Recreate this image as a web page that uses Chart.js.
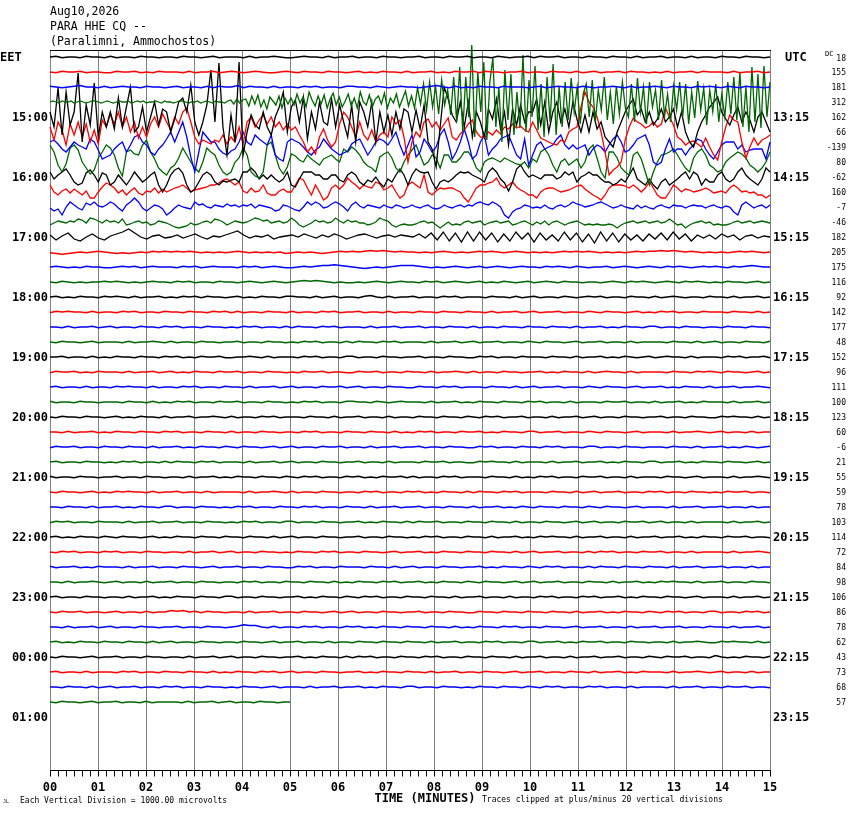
<!DOCTYPE html>
<html>
<head>
<meta charset="utf-8">
<title>PARA HHE CQ helicorder</title>
<script src="https://cdn.jsdelivr.net/npm/chart.js@4.4.0/dist/chart.umd.min.js"></script>
<style>
  html, body { margin: 0; padding: 0; background: #fff; }
</style>
</head>
<body>
<canvas id="heli" width="850" height="814"></canvas>
<script>
// header / labels
const stationLines = ['Aug10,2026', 'PARA HHE CQ --', '(Paralimni, Ammochostos)'];
const eetHours = ['EET', '15:00', '16:00', '17:00', '18:00', '19:00', '20:00', '21:00', '22:00', '23:00', '00:00', '01:00'];
const utcHours = ['UTC', '13:15', '14:15', '15:15', '16:15', '17:15', '18:15', '19:15', '20:15', '21:15', '22:15', '23:15'];
const minuteTicks = ['00', '01', '02', '03', '04', '05', '06', '07', '08', '09', '10', '11', '12', '13', '14', '15'];
const dcOffsets = [18, 155, 181, 312, 162, 66, -139, 80, -62, 160, -7, -46, 182, 205, 175, 116, 92, 142, 177, 48, 152, 96,
  111, 100, 123, 60, -6, 21, 55, 59, 78, 103, 114, 72, 84, 98, 106, 86, 78, 62, 43, 73, 68, 57];
const traceColors = ['#000000', '#ff0000', '#0000ff', '#006600'];
const rowCount = 44;
const lastRowMinutes = 5;   // last line stops at 5 minutes
const pxPerDivision = 15;   // readings below are in 1/15 of a vertical division

// loud rows (+ is up)
const trace03 = [
  0,1,0,-1,1,0,0,1,-1,0, 1,0,-1,0,1,1,0,-1,0,1, 0,-1,0,1,0,0,1,-1,0,1, 0,1,-1,0,0,1,0,-1,1,0,
  0,-1,0,1,1,0,-1,0,0,1, -1,0,1,0,-1,1,0,0,-1,1, 2,-2,3,-1,2,
  3,-4,6,-2,7,-5,2,-7,5,1,-3,6,-6,4,-2,
  4,-3,8,-1,5,-5,10,2,-4,6, -2,7,-6,3,9,-3,5,-5,1,8, -4,4,-6,10,0,-3,7,-5,3,6, -2,9,-6,4,-1,8,-5,3,11,-4, 6,-6,14,-2,18,
  -8,20,-5,15,-12,22,-3,12,-13,25,
  -20,35,-30,25,-15,57,-35,30,-10,40, -38,20,44,-25,15,-40,32,-18,28,-33, 10,-26,47,-30,22,-15,36,-28,18,-35, 25,-20,38,-33,15,-25,
  20,-18,24,-10,15,-22,8,18,-15,22, -20,12,-8,25,-18,10,-22,16,-12,20, -6,-15,18,
  -20,24,-10,15,-22,20,-5,12,-18,22, -14,8,-20,16,-8,20,-15,
  18,-22,10,-16,21,-8,14,-23,12,-10, 18,-20,8,-15,20,-12,
  25,-18,30,-25,15,-30,35,-20,28,-26, 36,-15,20
];
const trace04 = [
  5,-10,29,-18,25,-8,5,44,-25,12, -8,34,-20,5,-10,5,-12,19,-10,10, 30,-15,-10,10,-15,0,15,-8,8,5,
  -15,-2,15,19,5,32,-5,-18,-5,12, 47,-5,54,-10,-38,2,-25,55,-38,-15, 2,-8,-12,5,-10,-18,0,10,25,-15,
  10,17,-5,20,-22,5,-12,15,-5,-8, 18,-10,12,-5,-20,12,-25,15,5,-10, 15,-25,5,-15,2,-18,5,-12,8,5,
  -15,7,-12,12,-25,-32,-50,-10,30,18, 2,-5,15,-10,15,-20,5,-5,-20,8, -2,18,-12,5,-28,8,-8,12,-5,5,
  5,18,-8,15,-15,5,15,-5,8,-10, 15,-2,-15,2,-15,5,-12,-5,-20,-25, -30,-15,-5,5,12,18,2,8,-5,5,
  -8,-2,8,-5,0,8,-10,5,-15,-25, -30,-15,-5,2,10,15,20,5,-2,-8, 2,10,-5,5,-3,-15,0,5,-5,-15
];
const trace05 = [
  5,-8,10,2,-13,8,-3,10,-5,8, -10,2,-12,12,5,18,8,20,5,15, 0,10,-6,5,-5,8,15,5,18,10,
  2,15,8,20,24,10,-5,-12,-8,-10, -12,-8,-10,-3,-12,-5,-10,5,-12,10, 15,5,12,17,8,15,5,10,2,8,
  2,5,-3,-10,-20,-15,-22,-5,3,-8, -15,-10,8,20,15,5,-5,10,-3,-8, 2,-10,-3,0,-5,15,8,12,-5,-30,
  -10,0,-5,10,13,5,10,2,8,14, -5,-8,-2,2,8,12,0,-5,-6,0, -3,2,-2,5,3,8,4,6,2,0,
  10,2,-6,-8,-10,-12,-13,-8,-10,0, 3,5,25,40,30,25,15,0,-20,-43, -38,-35,-30,-8,5,14,10,8,4,6,
  10,5,8,24,15,7,-5,-8,-13,-10, -9,-12,-15,-6,-15,-23,-28,-10,5,17, 12,10,-10,-26,-15,-6,-13,-8,-6,-3
];
const trace06 = [
  5,7,3,-2,-5,0,5,2,0,-2, 8,5,-3,-12,-10,-8,-2,2,5,-5, 2,10,12,5,2,-5,-8,-2,2,8,
  15,5,15,25,10,-10,-25,-5,15,10, 5,5,-2,-6,-8,-4,-2,5,15,5, 2,12,8,5,2,12,-8,-12,-14,5,
  8,6,4,0,-5,-8,-3,0,8,3, -2,-5,-8,-6,-4,3,6,8,0,-8, -2,5,8,6,2,8,15,2,-8,2,
  12,-10,-5,8,2,-5,0,12,18,5, -12,-5,5,18,5,-12,-8,5,12,-8, -2,2,8,10,12,2,-8,-12,8,-18,
  -8,2,5,-2,0,2,8,12,2,-2, 2,-2,0,2,-8,-2,2,0,-5,2, 8,12,5,-5,-3,2,8,10,12,2,
  -15,-18,-15,-2,8,-5,-2,-2,-8,-2, 2,8,6,-2,-8,-12,-5,2,5,5, 5,-2,2,-5,-3,-2,-2,-2,-12,5
];
const trace07 = [
  17,10,-3,-10,-2,14,17,12,0,-6, -12,-8,4,10,17,14,7,-6,-14,10, 12,8,7,17,22,10,3,-6,-10,-13,
  -6,-3,4,14,7,0,-6,-10,0,14, 10,7,-3,-10,-13,-10,0,4,14,7, -10,-14,-16,-10,17,20,7,-6,-12,-5,
  8,6,2,0,7,3,0,-3,3,5, 7,3,0,13,10,15,12,7,0,-4, -6,-10,5,8,10,4,-6,-10,0,7,
  12,17,7,-3,0,7,4,-6,7,7, 0,0,4,10,10,4,-6,-10,0,3, 4,2,0,4,2,0,-2,-3,0,-6,
  3,0,10,13,7,-3,-10,0,3,-3, 0,3,-6,0,13,17,4,-10,-16,10, 10,4,-6,-10,-13,7,10,3,-10,-23,
  -10,0,7,8,10,13,7,0,-6,-10, 4,10,13,7,-3,-6,-10,-8,0,4, 7,10,8,4,-3,-6,-10,-6,0,10
];
const trace08 = [
  5,-2,2,5,8,2,-5,-8,-6,4, 7,2,-5,4,2,-8,-5,2,-3,-8, -2,5,0,-5,-2,2,5,-8,-15,-8,
  2,7,9,4,-8,-15,-12,-5,2,5, 2,-5,-8,-4,-5,-3,-2,-5,5,5, 9,5,-2,2,-2,2,-2,-5,-2,5,
  -8,-10,-2,5,5,5,2,2,-2,-2, 2,2,-3,-5,2,5,2,-5,-8,-3, -5,0,-6,-10,-2,-5,2,8,2,-8,
  2,8,5,4,5,-5,-12,-5,-3,-5, -2,2,5,4,5,2,0,-2,-5,5, 9,5,-2,-6,-14,-5,8,12,5,0,
  2,0,-2,2,2,2,-2,0,5,2, 5,-5,0,2,5,2,2,-2,-5,-5, -8,-6,-2,-5,2,9,-2,-5,-8,-2,
  -8,-12,-5,-2,-8,-5,-2,2,5,-2, 5,2,-8,-2,-5,-5,2,5,-2,-5, -2,5,9,2,-2,-5,-8,-2,9,5
];
const trace09 = [
  7,0,-3,1,3,-1,3,0,-3,1, -6,-6,0,5,9,7,4,-1,2,-3, 1,4,-1,-3,1,0,4,-1,3,0,
  2,4,5,7,4,0,2,3,4,5, 7,7,9,12,13,10,7,10,1,-1, 4,0,1,7,-1,-3,-3,1,3,0,
  0,7,14,12,4,-3,7,0,-8,-5, 4,7,3,7,14,10,7,3,7,5, 4,10,8,2,4,7,0,-6,-3,7,
  10,7,4,17,0,-3,1,4,3,4, 4,2,0,-6,-10,-3,4,7,7,9, 10,14,7,4,7,10,5,2,0,-3,
  -3,-6,0,3,4,4,2,0,1,2, 4,6,7,3,0,-3,-5,-8,-3,4, 7,7,7,6,4,7,4,0,4,10,
  4,-3,-6,-6,0,7,4,0,3,2, 0,1,2,4,2,-1,0,1,-1,4, 7,4,0,1,-1,0,-3,-3,-6,-3
];
const trace10 = [
  -1,-4,-2,-8,0,5,2,-1,-3,4, 2,5,1,0,2,5,3,-1,-4,2, 5,9,5,-1,-4,-1,2,1,-2,-8,
  -5,-1,2,0,-1,-2,5,2,3,0, -1,2,1,0,3,1,2,0,2,1, 3,-1,2,1,0,-1,-4,-3,2,1,
  -1,-3,-4,0,5,2,5,3,-1,0, 3,5,3,0,-4,2,5,1,-1,2, 1,0,-1,2,0,-1,2,1,-1,0,
  2,0,-1,1,2,-1,-2,-1,2,0, -1,1,2,0,2,1,4,5,3,2, 5,3,0,-8,-11,-5,-2,-1,2,1,
  -1,0,-1,2,-1,-2,1,2,0,2, 5,3,2,0,1,2,4,5,3,1, -1,0,2,0,-1,-2,2,-1,1,-1,
  -2,1,2,0,-1,2,1,1,-1,1, 2,1,1,-1,1,2,0,-1,1,0, -5,-8,2,5,2,-1,1,2,-1,2
];
const trace11 = [
  -3,-1,1,0,-1,1,0,3,2,-1, 4,3,1,-1,2,0,1,-1,3,-3, -2,0,1,-1,0,-3,-2,1,0,-1,
  -3,-5,-6,-5,-4,-1,-3,-2,0,1, -1,3,2,0,-3,-1,1,0,-1,0, 2,4,3,1,2,-1,0,1,-1,0,
  4,1,-3,-5,-3,-1,2,0,1,-1, 0,4,1,-1,2,0,1,-1,-1,-3, -2,0,4,2,1,-3,-5,-3,-2,-3,
  -3,-2,0,1,-1,0,-3,-6,-3,0, -3,-2,-3,0,1,-1,0,1,-3,-1, 0,1,-1,0,1,-3,-2,0,1,-1,
  -3,0,-2,1,-3,0,1,-1,-3,-1, 0,1,-1,-3,-2,-3,-2,-3,-3,-2, -3,-6,-3,-1,0,1,-1,0,1,-1,
  0,1,-1,0,3,0,-3,-2,-6,-3, -1,0,1,-1,0,-3,-2,-3,-3,-2, 0,1,-1,0,1,-1,0,1,0,-1
];
const trace12 = [
  2,-3,1,4,-2,-4,0,3,-1,-3, 1,3,5,8,4,0,-2,1,2,-1, 0,2,-1,1,3,0,-2,1,0,2,
  4,6,2,-1,1,0,2,-2,0,1, 2,0,3,1,-1,2,0,3,1,-2, 0,2,3,1,-1,1,2,0,2,1,
  0,3,-1,4,-3,5,-4,4,-5,5, -4,5,-3,4,-5,3,-4,5,-2,4, -5,4,-3,2,-4,5,-3,4,-5,3,
  -6,5,-4,4,-5,3,-3,2,-4,3, -2,4,-3,5,-2,3,-4,2,-1,2, -2,3,0,2,-3,1,2,-1,1,0
];
const loudTraces = { 3: trace03, 4: trace04, 5: trace05, 6: trace06, 7: trace07, 8: trace08,
  9: trace09, 10: trace10, 11: trace11, 12: trace12 };

// quiet rows: one digit per sample, 4 = baseline, one step = 0.75 px
const quietTraces = {
  0: '4534435443 5344354434 4354434534 4435344543 3454435344 5344354434 4534435445 3443543445 3544534435 4435443534 4534435344 3544354434',
  1: '4354453443 3544534354 4435344534 5434543345 4354435443 4534354435 3445343544 5354434453 4435443534 5344535443 4353445354 4435344534',
  2: '5434564435 3454435443 4534435354 4635443534 4354534435 5443543454 4345643534 3544354443 4534544354 3445435344 5435443545 4354354434',
  13: '3212343454 3232343545 4545434343 4543434342 3434323454 5456565454 4343454343 4545434543 4343454545 4343434545 5656545434 3434545434',
  14: '4543435443 3454534544 4354534544 4354534543 3454566765 4323434566 6543434543 4534543454 4354543543 4453454345 4354543454 5435456544',
  15: '4354343445 4543434544 3545344354 4345434543 4565654343 3434543454 4354534543 4534354345 3454354434 4345435454 3454354543 4354434534',
  16: '4534354435 4543534453 4354535443 4534354435 5443534534 4356435344 5344354534 4435443534 5344354345 4534435443 5345434435 4435344534',
  17: '3545443534 4354534435 4435443545 3534435443 5344354534 4534435344 3544354435 4435344534 5344534435 4354434534 3545344354 4435443534',
  18: '4435344534 5344354435 4534435443 4354534435 3544354534 4435344534 4534435443 5344354435 4435443534 4534354435 5344354434 4354435443',
  19: '4354434534 4435344543 5344354434 4534435443 4354534435 3544354534 4435344534 5344534435 4354434534 4534435344 4435443534 5344354435',
  20: '4453443534 3544354435 4534354453 3445435344 4354534435 5344354434 4534435443 3545344354 4435443534 4534354345 3454435344 4354534453',
  21: '3544534354 4435344534 5343544354 4534435443 4354453443 3544534435 4435344543 5344354434 4534354435 3454435344 4435443545 4354434534',
  22: '4534435344 3545443534 4354534435 4435344534 5344354453 4534435443 3544354534 4435443534 5344534435 4354434534 4534354435 3445344543',
  23: '5344354434 4435443534 3545344354 4534435443 4354534435 5443543454 4435344534 3544354435 4534435344 4354453443 5344534354 4435344534',
  24: '4354435443 4534354435 3445344543 5344354534 4435443534 4534435344 3544354435 4354534453 4435344534 5344354434 4534435443 3545443534',
  25: '4435344534 3544354435 4534435443 5344354434 4354534435 4435443534 3545344354 4534354435 5344534435 4354434534 4435344543 4534435344',
  26: '3544534435 4435443534 4534354435 4354434534 5344354453 4435344534 4534435443 3545344354 4354534435 5344354434 4435443534 4534354345',
  27: '4534435443 4354534435 3544354534 4435344534 5344354434 4534435344 4354453443 3545443534 4435344534 4534354435 5344534354 4354434534',
  28: '5344354434 4534435443 4435344534 3544354435 4354534435 4534354453 5344354534 4435443534 3545344354 4534435344 4354434534 4435344543',
  29: '4354434534 3545443534 4534435344 4435344543 5344354434 4354534435 4534354435 3544354534 4435443534 5344534435 4534435443 4354453443',
  30: '4435443534 4534354435 5344354434 3545344354 4354534435 4435344534 4534435443 5344534354 3544354435 4354434534 4435344534 4534435344',
  31: '3545344354 4435344534 4534435443 4354534435 5344354434 4534354435 3544534435 4435443534 4354434534 5344354453 4534435344 4435344534',
  32: '4534354435 4354434534 3544354435 4435443534 5344354434 4534435443 4354534435 4435344534 3545443534 4534435344 5344534354 4354453443',
  33: '4354534435 4534435443 4435344534 5344354434 3544354534 4354434534 4534354435 4435443534 5344534435 3545344354 4534435344 4435344543',
  34: '5344534354 4435344534 4354434534 4534435443 3545344354 4435443534 5344354434 4534354435 4354534435 3544354435 4435344534 4534435344',
  35: '4435344543 4534435344 5344354434 4354534435 4435443534 3544354534 4534354435 4354434534 5344534435 4435344534 3545443534 4534435443',
  36: '4534435443 4435344534 3544354435 5344354434 4534354435 4354534435 4435443534 4534435344 3545344354 5344534354 4354434534 4435344534',
  37: '4354453443 4534435344 6564535443 4435344534 4354434534 5344354434 4534435443 3544354435 4435443534 4534354435 4354534435 5344354534',
  38: '4435344534 5344354434 4534435443 4576643534 4354534435 4534354435 4435443534 3544354534 4354434534 4534435344 5344534435 4435344534',
  39: '4534354435 4435443534 5344354434 4354434534 4534435344 3544354435 4435344534 4354534435 5344534354 4534435443 4435344543 3545443534',
  40: '4354434534 4534435443 4435344534 5344354434 4534354435 3545344354 4354534435 4435443534 4534435344 5344534435 4354453443 6434354435',
  41: '4534435344 4354534435 4435443534 3544354534 5344354434 4534354435 4435344534 4354434534 4534435443 5344534354 4435344543 4534435344',
  42: '4435443534 5344534435 4534435443 4354434534 4435344534 4534354435 5344354434 3544354435 4354534435 4534435344 4435344534 4354453443',
  43: '4354434534 4534435344 4435344534 5344354434 4'
};

function quietRow(str) {
  return str.replace(/\s+/g, '').split('').map(d => (Number(d) - 4) * 0.75);
}

const rows = [];
for (let i = 0; i < rowCount; i++) {
  rows.push(loudTraces[i] || quietRow(quietTraces[i]));
}

const datasets = rows.map((vals, i) => {
  const span = i === rowCount - 1 ? lastRowMinutes : 15;
  const n = vals.length;
  return {
    data: vals.map((v, k) => ({ x: k * span / (n - 1), y: i - v / pxPerDivision })),
    borderColor: traceColors[i % 4],
    borderWidth: loudTraces[i] ? 1.3 : 1.6,
    pointRadius: 0,
    tension: 0,
    clip: false
  };
});

const mono = '"DejaVu Sans Mono", "Liberation Mono", monospace';

const helicorderFrame = {
  id: 'helicorderFrame',
  beforeDatasetsDraw(chart) {
    const { ctx, chartArea: a, scales: { x } } = chart;
    ctx.save();
    ctx.lineWidth = 1;
    ctx.strokeStyle = '#808080';
    for (let m = 0; m <= 15; m++) {
      const px = Math.round(x.getPixelForValue(m)) + 0.5;
      ctx.beginPath();
      ctx.moveTo(px, a.top);
      ctx.lineTo(px, a.bottom);
      ctx.stroke();
    }
    ctx.strokeStyle = '#000';
    ctx.beginPath();
    ctx.moveTo(a.left, a.top + 0.5);
    ctx.lineTo(a.right + 1, a.top + 0.5);
    ctx.stroke();
    ctx.restore();
  },
  afterDatasetsDraw(chart) {
    const { ctx, chartArea: a, scales: { x, y } } = chart;
    ctx.save();
    ctx.fillStyle = '#000';
    ctx.strokeStyle = '#000';
    ctx.lineWidth = 1;

    // time axis
    const axisY = Math.round(a.bottom) + 0.5;
    ctx.beginPath();
    ctx.moveTo(a.left, axisY);
    ctx.lineTo(a.right + 1, axisY);
    for (let s = 0; s <= 90; s++) {
      const px = Math.round(x.getPixelForValue(s / 6)) + 0.5;
      ctx.moveTo(px, axisY);
      ctx.lineTo(px, axisY + 6);
    }
    ctx.stroke();

    ctx.textBaseline = 'middle';
    ctx.textAlign = 'center';
    ctx.font = 'bold 12px ' + mono;
    minuteTicks.forEach((t, m) => ctx.fillText(t, x.getPixelForValue(m), 788));
    ctx.fillText('TIME (MINUTES)', 425, 799);

    ctx.textAlign = 'left';
    ctx.font = '8px ' + mono;
    ctx.fillText('Each Vertical Division = 1000.00 microvolts', 20, 801);
    ctx.fillText('Traces clipped at plus/minus 20 vertical divisions', 482, 800);
    ctx.font = '5px ' + mono;
    ctx.fillText('JL', 3, 802);

    // header
    ctx.font = '11.5px ' + mono;
    stationLines.forEach((s, i) => ctx.fillText(s, 50, 12 + i * 15));

    // hour labels
    ctx.font = 'bold 12px ' + mono;
    eetHours.forEach((h, j) => {
      const py = y.getPixelForValue(j * 4) + 1;
      if (j === 0) {
        ctx.textAlign = 'left';
        ctx.fillText(h, 0, py);
      } else {
        ctx.textAlign = 'right';
        ctx.fillText(h, 48, py);
      }
    });
    ctx.textAlign = 'left';
    utcHours.forEach((h, j) => {
      const py = y.getPixelForValue(j * 4) + 1;
      ctx.fillText(h, j === 0 ? 785 : 773, py);
    });

    // DC offsets
    ctx.font = '8px ' + mono;
    ctx.textAlign = 'right';
    dcOffsets.forEach((v, i) => {
      const py = y.getPixelForValue(i) + (i === 0 ? 2 : 1);
      ctx.fillText(String(v), 846, py);
    });
    ctx.textAlign = 'left';
    ctx.font = '7px ' + mono;
    ctx.fillText('DC', 825, 54);
    ctx.restore();
  }
};

new Chart(document.getElementById('heli'), {
  type: 'line',
  data: { datasets },
  options: {
    responsive: false,
    animation: false,
    devicePixelRatio: 1,
    layout: { padding: { left: 50, right: 80, top: 50, bottom: 44 } },
    scales: {
      x: { type: 'linear', min: 0, max: 15, display: false },
      y: { type: 'linear', min: -7 / pxPerDivision, max: 48 - 7 / pxPerDivision, reverse: true, display: false }
    },
    plugins: { legend: { display: false }, tooltip: { enabled: false } },
    elements: { line: { tension: 0 } }
  },
  plugins: [helicorderFrame]
});
</script>
</body>
</html>
